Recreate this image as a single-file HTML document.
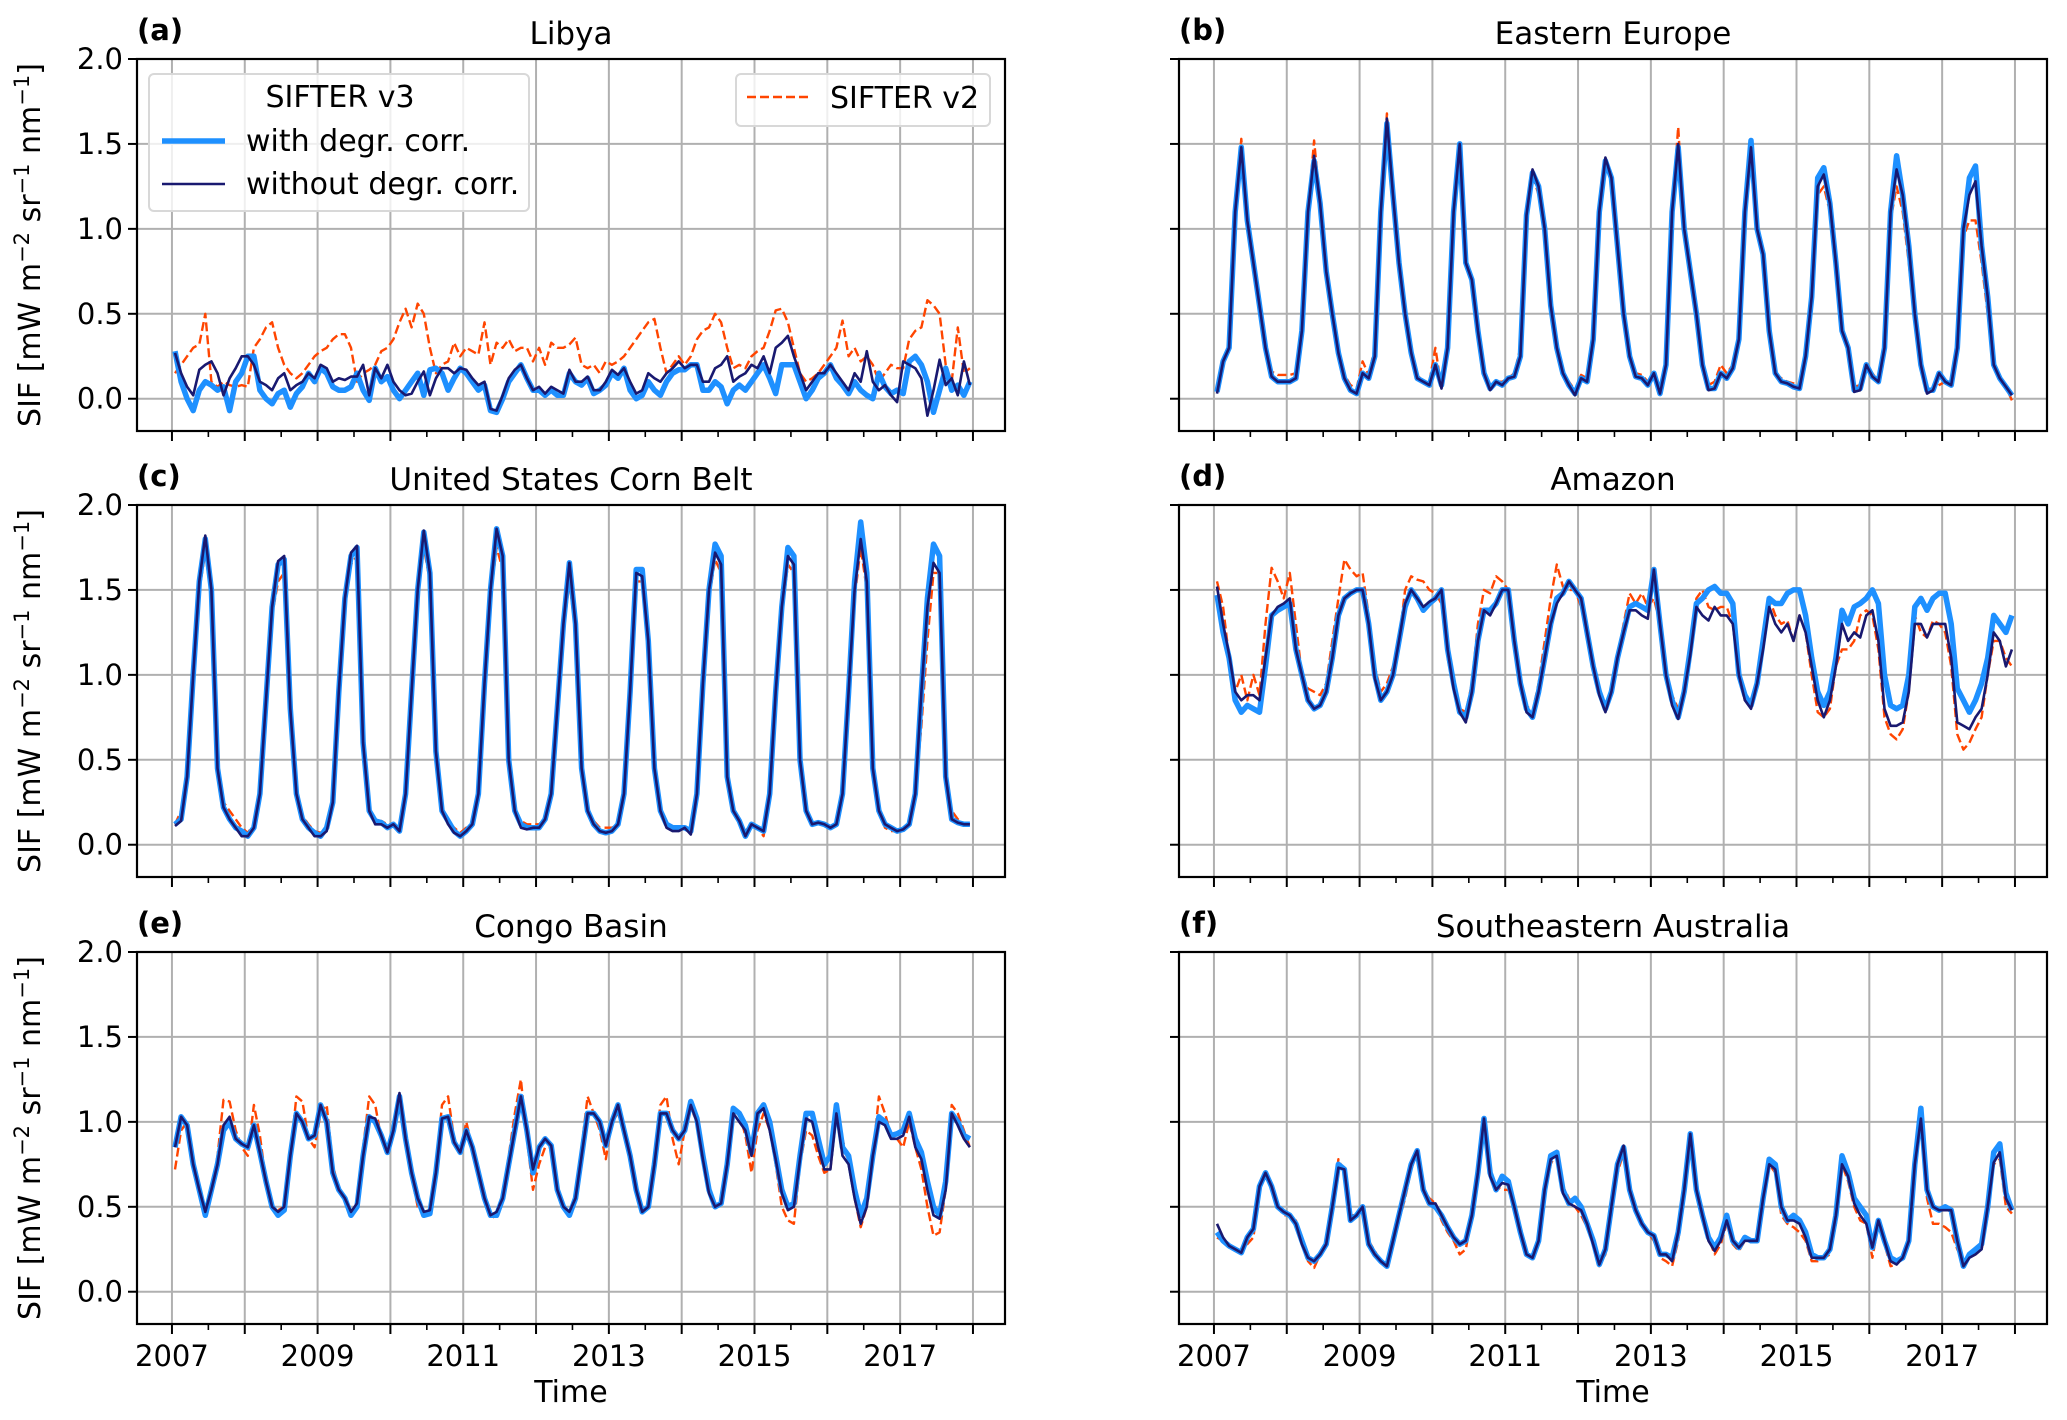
<!DOCTYPE html>
<html><head><meta charset="utf-8">
<style>
html,body{margin:0;padding:0;background:#fff;}
svg{display:block;font-family:"DejaVu Sans","Liberation Sans",sans-serif;}
</style></head>
<body>
<svg id="fig" width="2067" height="1420" viewBox="0 0 2067 1420" xmlns="http://www.w3.org/2000/svg"></svg>
<script>
const yTicks=[0.0,0.5,1.0,1.5,2.0];
const yTickLabels=["0.0","0.5","1.0","1.5","2.0"];
const xTickYears=[2007,2008,2009,2010,2011,2012,2013,2014,2015,2016,2017,2018];
const xTickLabels=["2007","2009","2011","2013","2015","2017"];
const panelTitles=["Libya","Eastern Europe","United States Corn Belt","Amazon","Congo Basin","Southeastern Australia"];
const panelLetters=["(a)","(b)","(c)","(d)","(e)","(f)"];

const libyaWith=[.28,.1,0,-.07,.05,.1,.08,.05,.07,-.07,.1,.15,
.25,.25,.05,0,-.03,.03,.05,-.05,.03,.07,.15,.1,
.18,.15,.07,.05,.05,.07,.15,.05,-.01,.18,.1,.13,
.05,0,.05,.1,.15,.02,.17,.18,.15,.05,.12,.18,
.15,.1,.05,.08,-.07,-.08,0,.1,.15,.2,.12,.05,
.05,.02,.05,.02,.02,.15,.1,.08,.12,.03,.05,.08,
.15,.12,.18,.05,0,.02,.1,.05,.02,.1,.15,.17,
.17,.2,.2,.05,.05,.1,.07,-.03,.05,.08,.05,.1,
.15,.2,.12,.03,.2,.2,.2,.1,0,.05,.12,.15,
.2,.12,.08,.03,.1,.05,.02,0,.15,.07,.03,.05,
.03,.22,.25,.2,.1,-.08,.05,.18,.05,.08,.02,.1];
const libyaWithout=[.27,.15,.07,.02,.17,.2,.22,.15,.02,.12,.18,.25,
.25,.2,.1,.08,.05,.12,.15,.05,.08,.1,.15,.12,
.2,.18,.1,.12,.11,.13,.13,.2,.02,.18,.12,.2,
.1,.05,.02,.03,.1,.16,.02,.12,.18,.18,.15,.18,
.17,.12,.08,.1,-.06,-.07,.02,.12,.17,.2,.12,.05,
.07,.03,.07,.05,.03,.17,.1,.1,.13,.05,.05,.1,
.17,.14,.18,.1,.03,.05,.15,.12,.1,.15,.18,.22,
.18,.2,.2,.1,.1,.18,.2,.25,.1,.13,.15,.2,
.18,.25,.15,.3,.33,.37,.25,.15,.05,.1,.15,.15,
.2,.15,.1,.05,.15,.1,.28,.1,.05,.08,.02,-.02,
.22,.2,.18,.12,-.1,.05,.23,.08,.12,.02,.22,.08];
const libyaV2=[.15,.2,.25,.3,.32,.5,.1,.07,.1,.08,.07,.08,
.07,.3,.35,.42,.45,.3,.2,.15,.12,.15,.2,.25,
.28,.3,.35,.38,.38,.3,.1,.15,.17,.2,.28,.3,
.35,.45,.53,.42,.56,.5,.3,.15,.2,.22,.33,.25,
.3,.28,.26,.45,.2,.33,.3,.35,.28,.3,.3,.22,
.3,.2,.33,.3,.3,.32,.36,.2,.18,.2,.15,.22,
.2,.22,.25,.3,.35,.4,.45,.47,.3,.15,.2,.25,
.2,.25,.35,.4,.42,.5,.45,.3,.18,.2,.18,.25,
.28,.3,.4,.52,.53,.45,.3,.15,.1,.12,.15,.2,
.25,.3,.46,.25,.3,.22,.25,.2,.1,.15,.2,.18,
.18,.35,.4,.42,.58,.55,.5,.2,.1,.42,.15,.18];

const eeWith=[.04,.22,.3,1.1,1.48,1.05,.8,.55,.3,.13,.1,.1,
.1,.12,.4,1.1,1.4,1.15,.75,.5,.27,.12,.05,.03,
.15,.12,.25,1.1,1.62,1.2,.8,.5,.27,.12,.1,.08,
.2,.08,.3,1.1,1.5,.8,.7,.4,.15,.06,.1,.08,
.12,.13,.25,1.08,1.33,1.25,1.0,.55,.3,.15,.08,.03,
.12,.1,.35,1.1,1.4,1.3,.9,.5,.25,.13,.12,.08,
.15,.03,.2,1.1,1.48,1.0,.75,.5,.2,.06,.06,.15,
.12,.18,.35,1.1,1.52,1.0,.85,.4,.15,.1,.09,.07,
.06,.25,.6,1.3,1.36,1.15,.8,.4,.3,.05,.06,.2,
.13,.1,.3,1.1,1.43,1.2,.9,.5,.2,.05,.05,.15,
.1,.08,.3,1.0,1.3,1.37,.9,.6,.2,.12,.07,.02];
const eeWithout=[.03,.22,.3,1.1,1.48,1.05,.8,.55,.3,.13,.1,.1,
.1,.12,.4,1.1,1.43,1.15,.75,.5,.27,.12,.05,.03,
.15,.12,.25,1.1,1.65,1.2,.8,.5,.27,.12,.1,.08,
.2,.06,.3,1.1,1.5,.8,.7,.4,.15,.05,.1,.08,
.12,.13,.25,1.08,1.35,1.25,1.0,.55,.3,.15,.08,.02,
.12,.1,.35,1.1,1.42,1.3,.9,.5,.25,.13,.12,.08,
.15,.03,.2,1.1,1.5,1.0,.75,.5,.2,.05,.06,.15,
.12,.18,.35,1.1,1.48,1.0,.85,.4,.15,.1,.09,.07,
.06,.25,.6,1.25,1.32,1.15,.8,.4,.3,.04,.05,.2,
.13,.1,.3,1.1,1.35,1.2,.9,.5,.2,.03,.05,.15,
.1,.08,.3,1.0,1.2,1.28,.9,.6,.2,.12,.07,.02];
const eeV2=[.06,.24,.3,1.1,1.53,1.05,.8,.58,.32,.16,.14,.14,
.14,.15,.4,1.1,1.52,1.15,.75,.5,.27,.14,.08,.06,
.22,.14,.3,1.1,1.68,1.2,.8,.52,.27,.14,.1,.1,
.3,.06,.3,1.1,1.52,.8,.7,.4,.15,.06,.1,.1,
.12,.15,.3,1.08,1.32,1.2,.95,.55,.3,.15,.1,.05,
.14,.12,.35,1.1,1.4,1.3,.9,.5,.25,.15,.14,.1,
.15,.05,.2,1.1,1.6,1.0,.75,.5,.2,.08,.1,.2,
.15,.2,.35,1.1,1.45,1.0,.8,.4,.15,.12,.1,.09,
.08,.25,.6,1.2,1.25,1.1,.75,.4,.3,.07,.08,.2,
.15,.1,.3,1.05,1.25,1.1,.8,.45,.2,.05,.05,.08,
.1,.08,.3,.95,1.05,1.05,.8,.5,.2,.12,.07,-.01];

const cbWith=[.12,.15,.4,1.0,1.55,1.8,1.5,.45,.22,.15,.1,.08,
.05,.1,.3,.85,1.4,1.65,1.68,.8,.3,.15,.1,.07,
.05,.1,.25,.9,1.45,1.7,1.75,.6,.2,.14,.13,.1,
.12,.08,.3,.9,1.5,1.84,1.6,.55,.2,.14,.08,.05,
.08,.12,.3,.95,1.5,1.86,1.7,.5,.2,.12,.1,.1,
.1,.15,.3,.8,1.3,1.66,1.3,.45,.2,.12,.08,.07,
.08,.12,.3,.9,1.62,1.62,1.2,.45,.2,.12,.1,.1,
.1,.08,.3,.95,1.5,1.77,1.7,.4,.2,.14,.05,.12,
.1,.08,.3,.9,1.4,1.75,1.7,.5,.2,.12,.13,.12,
.1,.12,.3,.9,1.55,1.9,1.6,.45,.2,.12,.1,.08,
.09,.12,.3,.9,1.45,1.77,1.7,.4,.15,.13,.12,.12];
const cbWithout=[.11,.14,.4,1.0,1.55,1.82,1.5,.45,.22,.15,.1,.05,
.05,.1,.3,.85,1.4,1.67,1.7,.8,.3,.15,.1,.05,
.05,.08,.25,.9,1.45,1.72,1.76,.6,.2,.12,.12,.1,
.12,.08,.3,.9,1.5,1.85,1.6,.55,.2,.12,.07,.05,
.08,.12,.3,.95,1.5,1.86,1.7,.5,.2,.1,.09,.1,
.1,.15,.3,.8,1.3,1.66,1.3,.45,.2,.12,.08,.07,
.08,.12,.3,.9,1.6,1.58,1.2,.45,.2,.1,.08,.08,
.1,.06,.3,.95,1.5,1.72,1.65,.4,.2,.14,.05,.12,
.1,.08,.3,.9,1.4,1.7,1.65,.5,.2,.12,.13,.12,
.1,.12,.3,.9,1.5,1.8,1.55,.45,.2,.12,.1,.08,
.09,.12,.3,.9,1.4,1.66,1.6,.4,.15,.13,.12,.12];
const cbV2=[.12,.2,.45,1.0,1.5,1.72,1.45,.45,.25,.2,.15,.1,
.07,.12,.35,.85,1.35,1.55,1.6,.8,.3,.17,.12,.08,
.07,.1,.25,.85,1.4,1.65,1.7,.6,.22,.14,.14,.12,
.12,.1,.3,.85,1.45,1.75,1.55,.55,.22,.14,.1,.07,
.1,.12,.3,.9,1.45,1.75,1.62,.5,.2,.14,.12,.12,
.12,.15,.3,.75,1.25,1.55,1.25,.45,.2,.14,.1,.1,
.1,.12,.3,.85,1.55,1.55,1.2,.45,.2,.12,.1,.1,
.1,.1,.3,.9,1.45,1.68,1.6,.4,.2,.14,.08,.12,
.1,.05,.28,.85,1.35,1.65,1.6,.5,.2,.13,.13,.12,
.1,.12,.3,.85,1.45,1.75,1.5,.45,.2,.1,.08,.08,
.09,.12,.3,.7,1.2,1.6,1.6,.45,.2,.15,.12,.12];

const amWith=[1.47,1.25,1.1,.85,.78,.82,.8,.78,1.05,1.35,1.38,1.4,
1.42,1.15,1.0,.85,.8,.82,.9,1.1,1.35,1.45,1.48,1.5,
1.5,1.3,1.0,.85,.9,1.0,1.2,1.4,1.5,1.45,1.38,1.42,
1.45,1.5,1.15,.95,.78,.75,.9,1.2,1.38,1.38,1.42,1.5,
1.5,1.2,.95,.8,.75,.9,1.1,1.3,1.45,1.48,1.55,1.5,
1.45,1.25,1.05,.9,.8,.9,1.1,1.25,1.4,1.42,1.4,1.38,
1.62,1.3,1.0,.85,.75,.9,1.15,1.42,1.45,1.5,1.52,1.48,
1.48,1.42,1.0,.88,.82,.95,1.2,1.45,1.42,1.42,1.48,1.5,
1.5,1.35,1.1,.9,.82,.9,1.1,1.38,1.3,1.4,1.42,1.45,
1.5,1.42,1.0,.82,.8,.82,1.0,1.4,1.45,1.38,1.45,1.48,
1.48,1.3,.92,.85,.78,.85,.95,1.1,1.35,1.3,1.25,1.35];
const amWithout=[1.52,1.3,1.12,.9,.85,.88,.88,.85,1.1,1.35,1.4,1.42,
1.45,1.15,1.0,.85,.8,.82,.9,1.1,1.35,1.45,1.48,1.5,
1.5,1.3,.98,.85,.9,1.0,1.2,1.42,1.5,1.45,1.4,1.43,
1.45,1.5,1.15,.92,.78,.72,.9,1.2,1.38,1.35,1.42,1.5,
1.5,1.2,.95,.78,.75,.9,1.1,1.3,1.42,1.48,1.55,1.5,
1.45,1.25,1.05,.88,.78,.9,1.1,1.25,1.38,1.38,1.35,1.33,
1.62,1.3,1.0,.82,.74,.9,1.12,1.4,1.35,1.32,1.4,1.35,
1.35,1.3,1.0,.85,.8,.95,1.15,1.4,1.3,1.25,1.3,1.2,
1.35,1.25,1.05,.85,.75,.85,1.05,1.3,1.2,1.25,1.22,1.35,
1.38,1.2,.8,.7,.7,.72,.9,1.3,1.3,1.22,1.3,1.3,
1.3,1.1,.72,.7,.68,.75,.8,1.0,1.25,1.2,1.05,1.15];
const amV2=[1.55,1.4,1.1,.9,1.0,.85,1.0,.88,1.3,1.63,1.55,1.45,
1.6,1.3,1.0,.92,.9,.88,.95,1.2,1.45,1.68,1.62,1.58,
1.6,1.35,1.05,.9,.95,1.05,1.2,1.5,1.58,1.56,1.55,1.5,
1.48,1.42,1.1,.92,.8,.78,.95,1.3,1.5,1.48,1.58,1.55,
1.5,1.25,.95,.82,.78,.95,1.2,1.45,1.65,1.52,1.5,1.5,
1.4,1.25,1.05,.88,.8,.88,1.1,1.3,1.48,1.42,1.48,1.4,
1.45,1.3,1.0,.88,.8,.9,1.1,1.45,1.5,1.4,1.38,1.4,
1.4,1.3,1.0,.85,.82,.95,1.15,1.45,1.35,1.3,1.32,1.2,
1.35,1.25,1.0,.78,.75,.8,1.05,1.15,1.15,1.2,1.35,1.38,
1.35,1.15,.75,.65,.62,.68,.9,1.35,1.25,1.22,1.32,1.3,
1.25,1.05,.65,.56,.6,.68,.75,1.0,1.2,1.2,1.1,1.05];

const cgWith=[.85,1.03,.98,.75,.6,.45,.6,.75,.95,1.0,.9,.87,
.85,.98,.82,.65,.5,.45,.48,.8,1.05,1.0,.9,.92,
1.1,1.0,.7,.6,.55,.45,.5,.8,1.03,1.0,.92,.82,
.95,1.15,.9,.7,.55,.45,.46,.7,1.02,1.03,.88,.82,
.95,.85,.7,.55,.45,.45,.55,.75,.95,1.15,.95,.7,
.85,.9,.86,.6,.5,.45,.55,.8,1.05,1.05,1.0,.86,
1.0,1.1,.95,.8,.6,.47,.5,.75,1.05,1.05,.95,.9,
.95,1.12,1.02,.8,.6,.5,.52,.75,1.08,1.05,.98,.82,
1.05,1.1,1.0,.8,.6,.5,.52,.8,1.05,1.05,.9,.75,
.8,1.1,.85,.8,.6,.45,.55,.8,1.03,1.0,.92,.93,
.95,1.05,.9,.82,.65,.5,.45,.65,1.05,1.0,.92,.9];
const cgWithout=[.85,1.03,.98,.75,.6,.47,.6,.75,.98,1.03,.9,.87,
.85,.98,.82,.65,.5,.47,.5,.8,1.05,1.0,.9,.92,
1.1,1.0,.7,.6,.55,.47,.52,.8,1.03,1.02,.92,.82,
.95,1.17,.9,.7,.55,.47,.48,.7,1.02,1.03,.88,.82,
.95,.85,.7,.55,.45,.47,.55,.75,.95,1.15,.95,.72,
.85,.9,.86,.6,.5,.47,.55,.8,1.05,1.05,1.0,.86,
1.0,1.1,.95,.8,.6,.47,.5,.75,1.05,1.05,.95,.9,
.95,1.1,1.0,.78,.58,.5,.52,.75,1.05,1.0,.95,.8,
1.05,1.08,.95,.78,.58,.48,.5,.78,1.02,1.0,.85,.72,
.72,1.05,.8,.75,.55,.4,.5,.8,1.0,.98,.9,.9,
.92,1.03,.85,.78,.6,.45,.43,.6,1.05,.98,.9,.85];
const cgV2=[.72,.95,1.0,.78,.6,.47,.6,.8,1.13,1.12,.95,.85,
.8,1.1,.92,.65,.5,.48,.5,.8,1.15,1.12,.9,.85,
1.05,1.1,.75,.6,.55,.45,.5,.85,1.15,1.1,.9,.82,
.95,1.15,.88,.68,.5,.45,.47,.72,1.1,1.15,.9,.82,
1.0,.85,.7,.55,.45,.43,.55,.8,1.05,1.25,.9,.6,
.75,.85,.85,.6,.5,.45,.55,.85,1.15,1.05,.95,.78,
1.0,1.05,.95,.8,.6,.47,.5,.8,1.1,1.15,.9,.75,
.95,1.08,1.0,.78,.6,.5,.5,.72,1.08,1.05,.92,.7,
.95,1.05,.95,.75,.5,.42,.4,.75,.95,.92,.8,.7,
.72,1.05,.9,.75,.55,.38,.5,.8,1.15,1.05,.92,.9,
.85,1.0,.85,.72,.5,.33,.35,.6,1.1,1.05,.95,.85];

const auWith=[.35,.3,.27,.25,.23,.32,.37,.62,.70,.62,.50,.47,
.45,.40,.30,.20,.18,.22,.28,.50,.75,.72,.42,.45,
.50,.28,.22,.18,.15,.30,.45,.60,.75,.83,.60,.52,
.50,.45,.38,.32,.28,.30,.45,.70,1.02,.70,.60,.68,
.65,.50,.35,.22,.20,.30,.60,.80,.82,.60,.52,.55,
.50,.40,.30,.16,.25,.50,.75,.85,.60,.48,.40,.35,
.33,.22,.22,.20,.35,.60,.93,.60,.45,.32,.26,.32,
.45,.30,.26,.32,.30,.30,.55,.78,.75,.50,.42,.45,
.42,.35,.22,.20,.20,.25,.45,.80,.70,.55,.50,.45,
.26,.42,.30,.20,.18,.20,.30,.75,1.08,.60,.50,.48,
.50,.48,.30,.15,.22,.25,.28,.50,.82,.87,.58,.48];
const auWithout=[.4,.32,.27,.25,.23,.32,.37,.62,.70,.62,.50,.47,
.45,.40,.28,.20,.18,.22,.28,.50,.73,.72,.42,.45,
.50,.28,.22,.18,.15,.30,.45,.60,.75,.83,.60,.52,
.52,.45,.38,.32,.28,.30,.45,.70,1.02,.68,.60,.64,
.63,.50,.35,.22,.20,.30,.60,.78,.80,.58,.52,.50,
.48,.40,.28,.16,.25,.50,.75,.86,.60,.48,.40,.35,
.33,.22,.22,.18,.35,.60,.93,.60,.45,.30,.24,.30,
.42,.30,.26,.30,.30,.30,.55,.75,.72,.50,.42,.42,
.40,.32,.20,.20,.20,.25,.45,.75,.68,.52,.45,.40,
.26,.42,.30,.18,.16,.20,.30,.75,1.02,.60,.50,.48,
.48,.48,.30,.15,.20,.22,.25,.50,.76,.82,.55,.48];
const auV2=[.32,.3,.26,.25,.23,.28,.32,.6,.68,.62,.5,.45,
.45,.42,.3,.18,.14,.22,.28,.5,.78,.7,.45,.45,
.5,.3,.24,.18,.15,.28,.42,.55,.72,.82,.6,.55,
.52,.42,.35,.3,.22,.25,.45,.7,1.02,.72,.62,.6,
.6,.5,.35,.22,.2,.3,.6,.75,.83,.62,.55,.5,
.45,.38,.3,.15,.22,.45,.7,.82,.58,.5,.4,.35,
.3,.2,.18,.15,.3,.55,.9,.62,.48,.32,.22,.28,
.4,.28,.24,.3,.3,.3,.5,.75,.7,.45,.4,.38,
.35,.3,.18,.18,.2,.22,.4,.75,.65,.5,.42,.4,
.2,.4,.28,.15,.16,.2,.3,.7,1.0,.55,.4,.4,
.38,.35,.25,.18,.2,.22,.25,.45,.75,.78,.5,.46];

const panelWith=[libyaWith,eeWith,cbWith,amWith,cgWith,auWith];
const panelWithout=[libyaWithout,eeWithout,cbWithout,amWithout,cgWithout,auWithout];
const panelV2=[libyaV2,eeV2,cbV2,amV2,cgV2,auV2];

const NS="http://www.w3.org/2000/svg";
const svg=document.getElementById('fig');
function mk(tag,attrs,parent){const e=document.createElementNS(NS,tag);for(const k in attrs)e.setAttribute(k,attrs[k]);(parent||svg).appendChild(e);return e;}
const colX=[137,1179], rowY=[59,505,952], W=868, H=372;
const xMin=2006.52, xMax=2018.44, yMin=-0.19, yMax=2.0;

for(let p=0;p<6;p++){
  const c=p%2, r=Math.floor(p/2);
  const L=colX[c], T=rowY[r];
  const sx=v=>L+(v-xMin)/(xMax-xMin)*W;
  const sy=v=>T+(yMax-v)/(yMax-yMin)*H;
  const g=mk('g',{});
  
  
  xTickYears.forEach(yr=>{const l=mk('line',{x1:sx(yr),x2:sx(yr),y1:T,y2:T+H,stroke:'#b0b0b0','stroke-width':2},g);});
  yTicks.forEach(v=>{const l=mk('line',{x1:L,x2:L+W,y1:sy(v),y2:sy(v),stroke:'#b0b0b0','stroke-width':2},g);});
  const mkLine=(arr,attrs,name)=>{let d='';arr.forEach((v,i)=>{const t=2007+(i+0.5)/12;d+=(i?'L':'M')+sx(t).toFixed(1)+','+sy(v).toFixed(1);});const pa=mk('path',Object.assign({d:d,fill:'none','stroke-linejoin':'round'},attrs),g);};
  mkLine(panelV2[p],{stroke:'#ff4500','stroke-width':2.4,'stroke-dasharray':'9,4'},'sifter-v2-line');
  mkLine(panelWith[p],{stroke:'#1e90ff','stroke-width':5.5},'with-degr-corr-line');
  mkLine(panelWithout[p],{stroke:'#191970','stroke-width':2.6},'without-degr-corr-line');
  const fr=mk('rect',{x:L,y:T,width:W,height:H,fill:'none',stroke:'#000','stroke-width':2.2},g);
  yTicks.forEach((v,i)=>{mk('line',{x1:L-9,x2:L,y1:sy(v),y2:sy(v),stroke:'#000','stroke-width':2},g);
    if(c===0){const t=mk('text',{x:L-14,y:sy(v)+10,'text-anchor':'end','font-size':29},g);t.textContent=yTickLabels[i];}});
  xTickYears.forEach(yr=>{mk('line',{x1:sx(yr),x2:sx(yr),y1:T+H,y2:T+H+10,stroke:'#000','stroke-width':2},g);
    if(yr<2018)mk('line',{x1:sx(yr+0.5),x2:sx(yr+0.5),y1:T+H,y2:T+H+6,stroke:'#000','stroke-width':1.6},g);});
  if(r===2){xTickLabels.forEach(s=>{const t=mk('text',{x:sx(+s),y:T+H+42,'text-anchor':'middle','font-size':29},g);t.textContent=s;}
    );
    const xl=mk('text',{x:L+W/2,y:T+H+78,'text-anchor':'middle','font-size':30},g);xl.textContent='Time';}
  const tt=mk('text',{x:L+W/2,y:T-15,'text-anchor':'middle','font-size':31},g);tt.textContent=panelTitles[p];
  const lt=mk('text',{x:L,y:T-19,'font-size':29,'font-weight':'bold'},g);lt.textContent=panelLetters[p];
  if(c===0){const yl=mk('text',{x:0,y:0,'text-anchor':'middle','font-size':30,transform:`translate(40,${T+H/2}) rotate(-90)`},g);
    yl.innerHTML='SIF [mW m<tspan dy="-11" font-size="21">−2</tspan><tspan dy="11"> sr</tspan><tspan dy="-11" font-size="21">−1</tspan><tspan dy="11"> nm</tspan><tspan dy="-11" font-size="21">−1</tspan><tspan dy="11">]</tspan>';
    }
}
const lg=mk('g',{});
mk('rect',{x:149,y:74,width:380,height:137,rx:5,fill:'#fff','fill-opacity':0.8,stroke:'#d8d8d8','stroke-width':2},lg);
let t=mk('text',{x:340,y:107,'text-anchor':'middle','font-size':30},lg);t.textContent='SIFTER v3';
mk('line',{x1:162,x2:225,y1:141,y2:141,stroke:'#1e90ff','stroke-width':5.5},lg);
t=mk('text',{x:246,y:151,'font-size':30},lg);t.textContent='with degr. corr.';
mk('line',{x1:162,x2:225,y1:184,y2:184,stroke:'#191970','stroke-width':2.6},lg);
t=mk('text',{x:246,y:194,'font-size':30},lg);t.textContent='without degr. corr.';
const lg2=mk('g',{});
mk('rect',{x:736,y:74,width:254,height:52,rx:5,fill:'#fff','fill-opacity':0.8,stroke:'#d8d8d8','stroke-width':2},lg2);
mk('line',{x1:747,x2:808,y1:97,y2:97,stroke:'#ff4500','stroke-width':2.4,'stroke-dasharray':'9,4'},lg2);
t=mk('text',{x:830,y:108,'font-size':30},lg2);t.textContent='SIFTER v2';
</script>
</body></html>
